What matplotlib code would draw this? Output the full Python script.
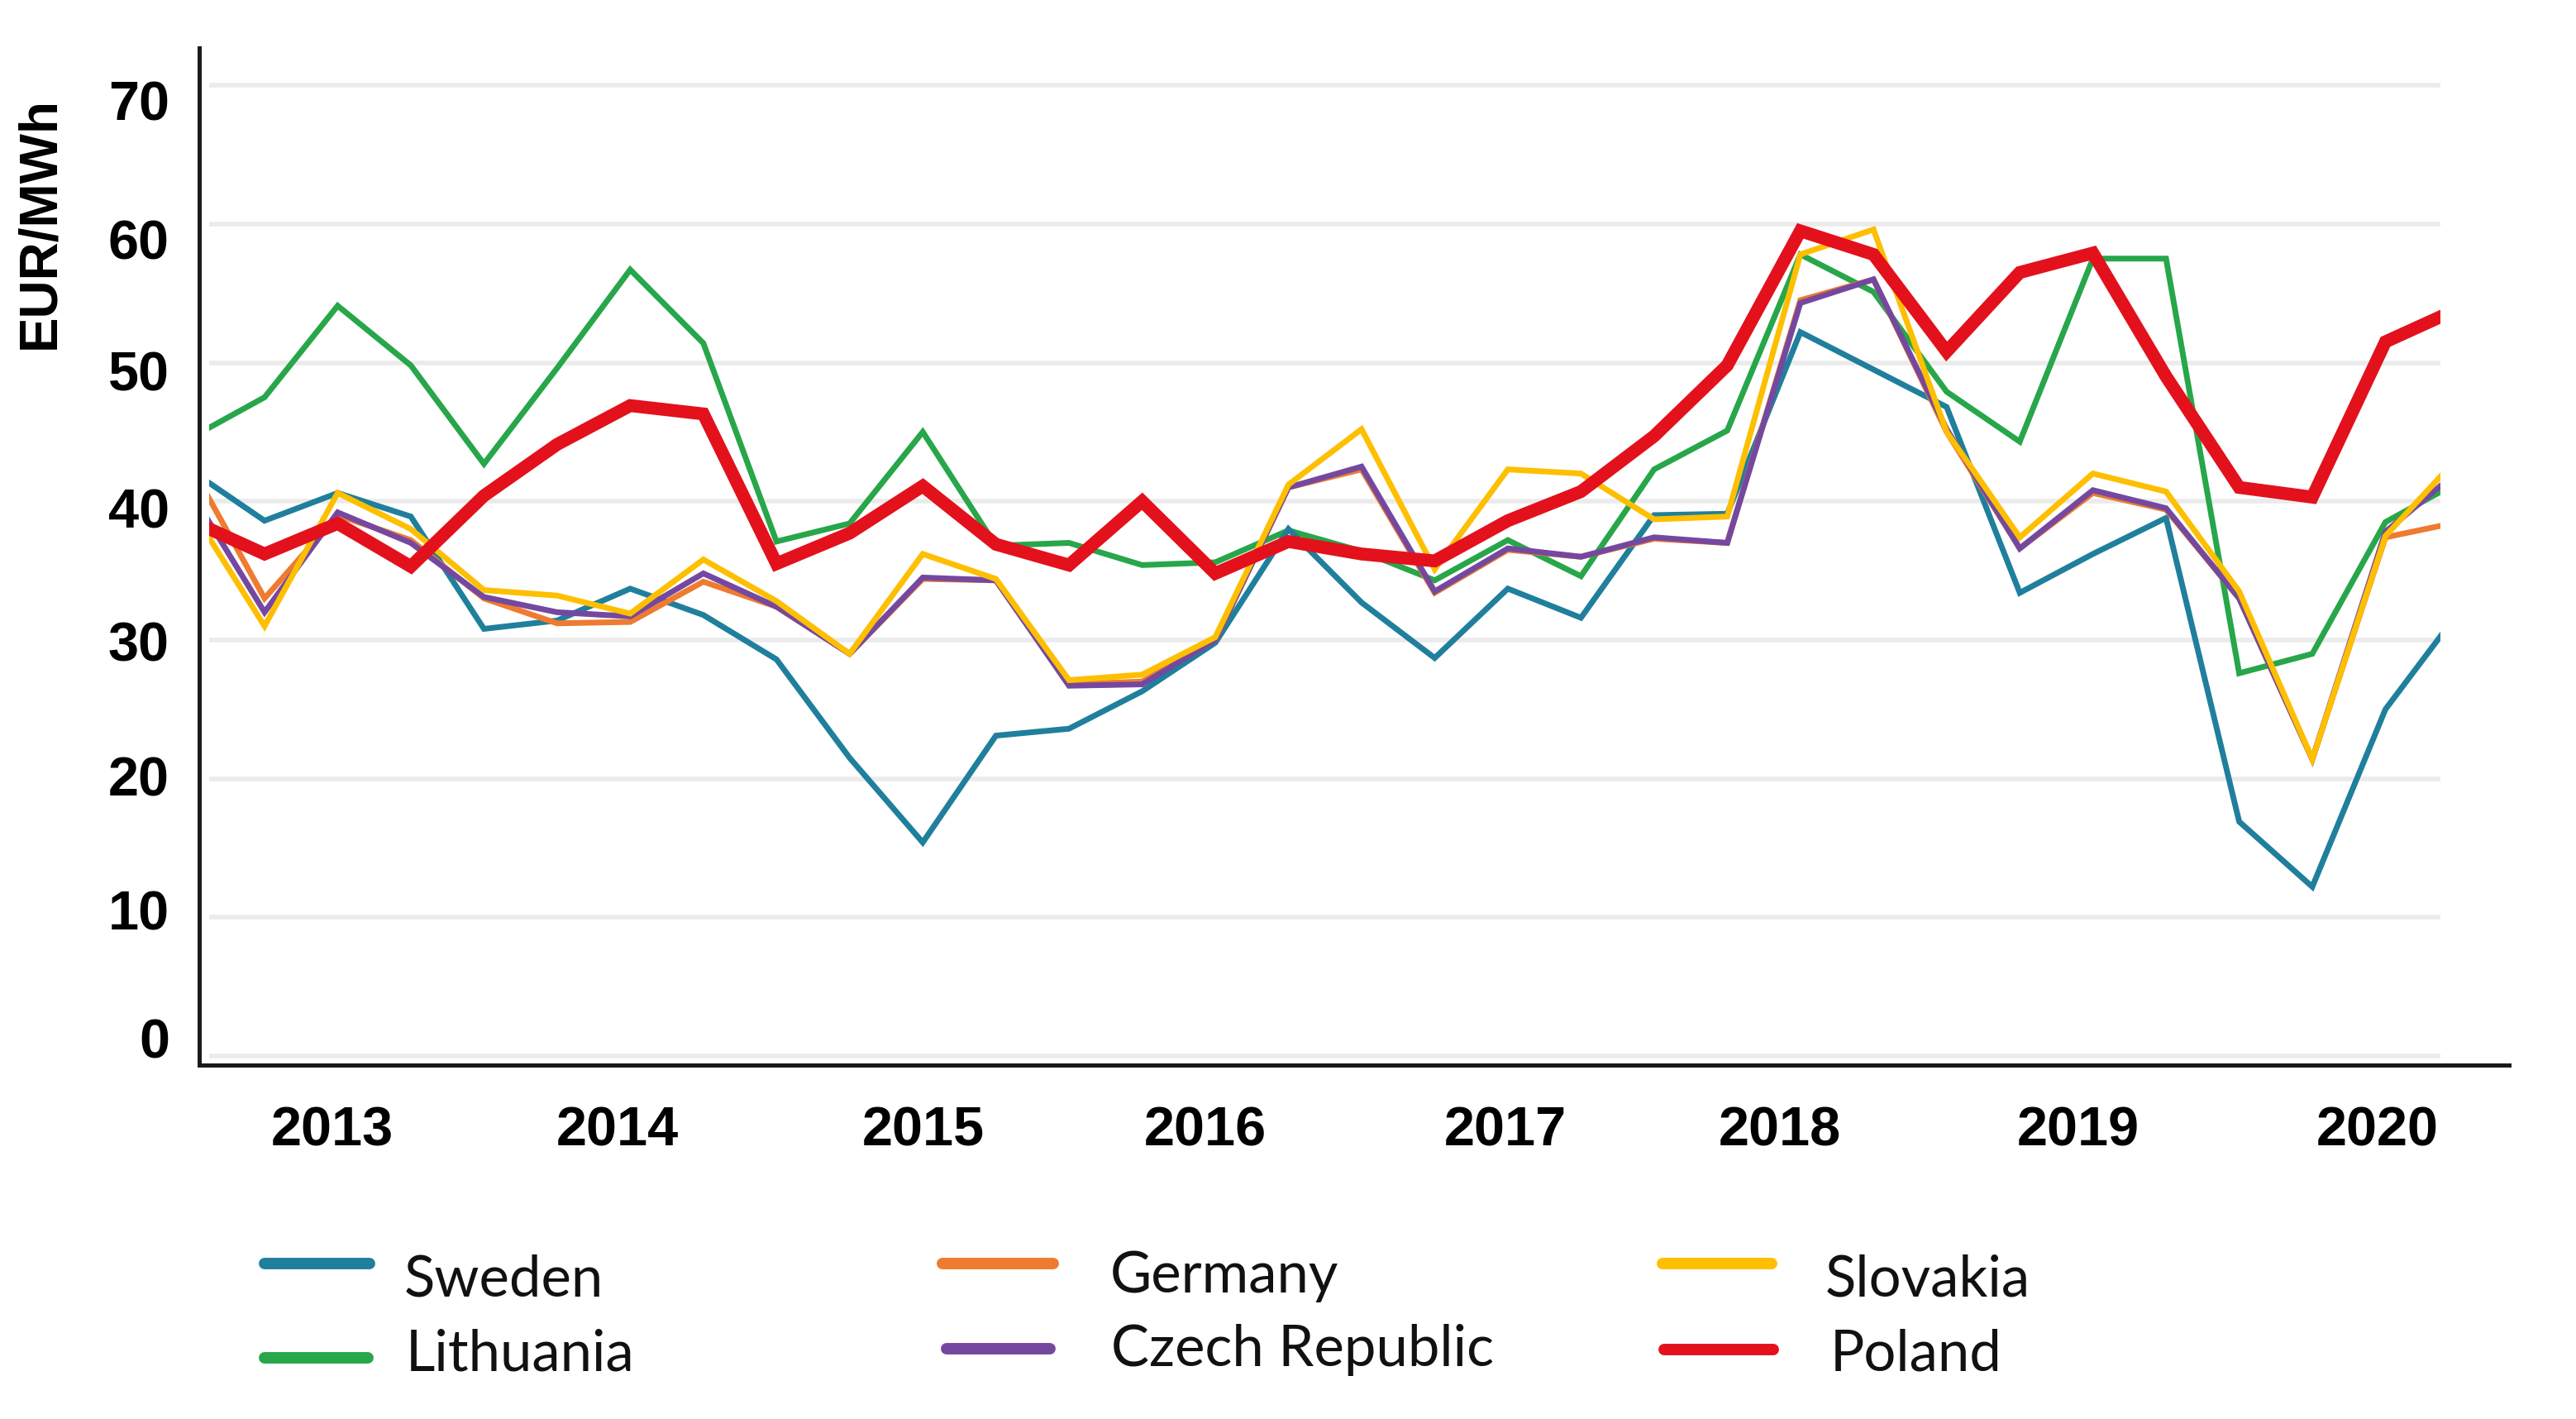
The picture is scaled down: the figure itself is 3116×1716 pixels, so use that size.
import numpy as np
import matplotlib
matplotlib.use("Agg")
import matplotlib.pyplot as plt
from matplotlib.lines import Line2D
from matplotlib.patches import Rectangle

# ---------------- data (quarterly, EUR/MWh) ----------------
quarters = ["2012Q3", "2012Q4",
            "2013Q1", "2013Q2", "2013Q3", "2013Q4",
            "2014Q1", "2014Q2", "2014Q3", "2014Q4",
            "2015Q1", "2015Q2", "2015Q3", "2015Q4",
            "2016Q1", "2016Q2", "2016Q3", "2016Q4",
            "2017Q1", "2017Q2", "2017Q3", "2017Q4",
            "2018Q1", "2018Q2", "2018Q3", "2018Q4",
            "2019Q1", "2019Q2", "2019Q3", "2019Q4",
            "2020Q1", "2020Q2"]

sweden = [42.2, 38.6, 40.6, 38.9, 30.8, 31.4, 33.7, 31.8, 28.6, 21.5, 15.4,
          23.1, 23.6, 26.3, 29.8, 38.0, 32.7, 28.7, 33.7, 31.6, 39.0, 39.1,
          52.2, 49.5, 46.8, 33.4, 36.2, 38.8, 16.9, 12.2, 25.0, 32.0]
lithuania = [44.6, 47.5, 54.1, 49.8, 42.7, 49.6, 56.7, 51.4, 37.1, 38.4, 45.0,
             36.8, 37.0, 35.4, 35.6, 37.9, 36.4, 34.3, 37.2, 34.6, 42.3, 45.1,
             57.8, 55.1, 47.9, 44.3, 57.5, 57.5, 27.6, 29.0, 38.5, 41.4]
germany = [42.5, 33.0, 39.0, 37.2, 33.0, 31.2, 31.3, 34.2, 32.4, 29.0, 34.4,
           34.3, 26.8, 27.0, 30.0, 41.0, 42.3, 33.4, 36.5, 36.0, 37.3, 37.0,
           54.5, 56.0, 45.0, 36.6, 40.6, 39.4, 33.0, 21.4, 37.4, 38.5]
czech = [40.6, 32.0, 39.2, 37.0, 33.1, 32.0, 31.7, 34.8, 32.4, 29.0, 34.5,
         34.3, 26.7, 26.8, 30.0, 41.0, 42.5, 33.5, 36.6, 36.0, 37.4, 37.0,
         54.3, 56.0, 45.2, 36.6, 40.8, 39.5, 33.0, 21.4, 37.8, 42.2]
slovakia = [39.4, 31.0, 40.6, 38.0, 33.6, 33.2, 31.9, 35.8, 32.8, 29.0, 36.2,
            34.4, 27.1, 27.5, 30.2, 41.2, 45.2, 35.1, 42.3, 42.0, 38.7, 38.9,
            57.8, 59.6, 45.0, 37.4, 42.0, 40.7, 33.5, 21.4, 37.5, 43.2]
poland = [38.6, 36.2, 38.4, 35.3, 40.4, 44.1, 46.9, 46.3, 35.5, 37.7, 41.1,
          36.9, 35.4, 40.0, 34.8, 37.1, 36.2, 35.7, 38.6, 40.7, 44.7, 49.8,
          59.5, 57.8, 50.8, 56.5, 57.9, 49.0, 41.0, 40.3, 51.5, 53.9]

year_labels = ["2013", "2014", "2015", "2016", "2017", "2018", "2019", "2020"]
y_labels = ["0", "10", "20", "30", "40", "50", "60", "70"]
grid_values = [0, 10, 20, 30, 40, 50, 60, 70]

# ---------------- style ----------------
C_SWE = "#1f7f9c"
C_LTU = "#27a64a"
C_DEU = "#ee7b30"
C_CZE = "#7548a0"
C_SVK = "#fdbf00"
C_POL = "#e3111c"

xtick_pos = [0.92, 4.83, 9.01, 12.86, 16.96, 20.72, 24.80, 28.89]
ytick_pos = [1.3, 10.5, 20.2, 29.9, 39.5, 49.4, 58.9, 68.9]
X_CLIP = (-0.76, 29.75)

W_PX, H_PX = 3116, 1716
fig = plt.figure(figsize=(15.58, 8.58), dpi=200)
L, R, T, B = 241, 3035, 58, 1288
ax = fig.add_axes([L / W_PX, 1 - B / H_PX, (R - L) / W_PX, (B - T) / H_PX])
ax.set_xlim(-0.893, 30.69)
ax.set_ylim(-0.656, 72.69)

x = np.arange(len(quarters)) - 1

ax.hlines(grid_values, X_CLIP[0], X_CLIP[1], color="#ebebeb", lw=2.0, zorder=1)

clip = Rectangle((X_CLIP[0], -10), X_CLIP[1] - X_CLIP[0], 100,
                 transform=ax.transData, facecolor="none", edgecolor="none")
ax.add_patch(clip)

series = [
    (lithuania, C_LTU, 2.5, 3),
    (sweden, C_SWE, 2.5, 4),
    (germany, C_DEU, 2.5, 5),
    (czech, C_CZE, 2.5, 6),
    (slovakia, C_SVK, 2.5, 7),
    (poland, C_POL, 5.6, 8),
]
for vals, col, lw, z in series:
    ln, = ax.plot(x, vals, color=col, lw=lw, zorder=z, solid_joinstyle="miter")
    ln.set_clip_path(clip)

for s in ("top", "right"):
    ax.spines[s].set_visible(False)
for s in ("left", "bottom"):
    ax.spines[s].set_color("#1a1a1a")
    ax.spines[s].set_linewidth(1.8)

tick_font = dict(family="Liberation Sans", weight="bold", size=24)
ax.set_xticks(xtick_pos)
ax.set_xticklabels(year_labels, fontdict=tick_font)
ax.set_yticks(ytick_pos)
ax.set_yticklabels(y_labels, fontdict=tick_font)
ax.tick_params(axis="x", length=0, pad=18)
ax.tick_params(axis="y", length=0, pad=13)

fig.text(48 / W_PX, 1 - 269 / H_PX, "EUR/MWh", rotation=90, ha="center",
         va="center", family="Liberation Sans", weight="bold", size=23)

# ---------------- legend (manual) ----------------
legend_entries = [
    ("Sweden", C_SWE, (320, 447, 1528), (489, 1568)),
    ("Lithuania", C_LTU, (320, 445, 1642), (491, 1657)),
    ("Germany", C_DEU, (1140, 1274, 1528), (1343, 1563)),
    ("Czech Republic", C_CZE, (1145, 1270, 1631), (1344, 1652)),
    ("Slovakia", C_SVK, (2011, 2143, 1528), (2208, 1568)),
    ("Poland", C_POL, (2013, 2145, 1632), (2214, 1657)),
]
for name, col, (x0, x1, yy), (tx, ty) in legend_entries:
    fig.add_artist(Line2D([x0 / W_PX, x1 / W_PX], [1 - yy / H_PX, 1 - yy / H_PX],
                          transform=fig.transFigure, color=col, lw=5.0,
                          solid_capstyle="round"))
    fig.text(tx / W_PX, 1 - ty / H_PX, name, ha="left", va="baseline",
             family="Lato", size=24.8, color="#111111")

fig.savefig("out.png", dpi=200, facecolor="white")
